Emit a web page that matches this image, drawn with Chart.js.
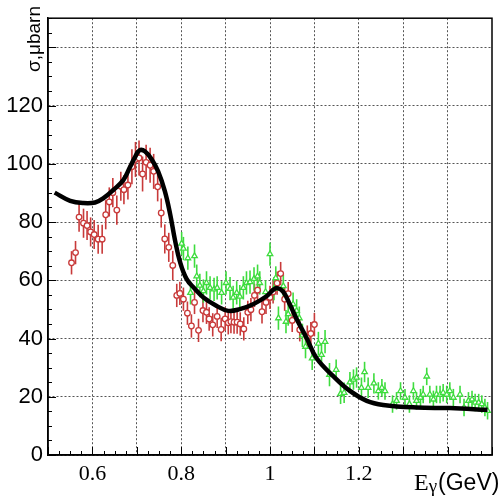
<!DOCTYPE html>
<html>
<head>
<meta charset="utf-8">
<script src="https://cdn.jsdelivr.net/npm/chart.js@4"></script>
<style>
  html, body { margin: 0; padding: 0; background: #fff; }
  #wrap { width: 503px; height: 498px; }
</style>
</head>
<body>
<div id="wrap"><canvas id="xsec" width="503" height="498"></canvas></div>
<script>
// --- data ---
const redX = [0.553,0.562,0.570,0.580,0.588,0.596,0.604,0.613,0.622,0.630,0.638,0.646,0.655,0.664,0.671,0.680,0.689,0.697,0.705,0.713,0.721,0.730,0.738,0.747,0.755,0.763,0.772,0.781,0.790,0.797,0.805,0.814,0.823,0.830,0.839,0.849,0.857,0.863,0.871,0.881,0.890,0.899,0.906,0.912,0.919,0.926,0.933,0.941,0.950,0.957,0.965,0.972,0.982,0.991,1.000,1.007,1.016,1.024,1.033,1.041,1.050,1.067,1.084,1.092,1.100];
const redY = [66,69.5,81.7,79.6,78.8,76.6,75.7,74.1,74.1,82.5,86.9,90.1,84.1,92.3,91.1,92.7,99,101.5,102,96.5,100.5,99.5,97.4,92.1,83.1,74.2,71.3,65.1,54.8,55.5,53.5,48.7,44.3,52.4,42.8,49.6,49.0,46.7,44.7,47.6,43.1,46.7,45.4,45.8,45.6,45.6,45.0,43.3,49.0,49.9,54.8,56.6,49.2,52.4,54.1,56.0,59,62.3,53.5,55.4,46.2,43,40.5,41.7,44.8];
const redErr = [4,4,5,5,5,5,5,5,5,5,5,5,5,5,5,5,6,6,6,6,6,6,6,5,5,5,5,5,4,4,4,4,4,4,4,4,4,4,4,4,4,4,4,4,4,4,4,4,4,4,4,4,4,4,4,4,4,4,4,4,4,4,4,4,4];

const greenX = [0.801,0.805,0.815,0.821,0.830,0.835,0.842,0.850,0.857,0.865,0.874,0.881,0.891,0.901,0.910,0.917,0.925,0.932,0.940,0.947,0.955,0.964,0.972,0.977,0.990,1.000,1.009,1.013,1.019,1.030,1.036,1.041,1.052,1.060,1.066,1.073,1.080,1.095,1.109,1.116,1.124,1.134,1.149,1.159,1.167,1.180,1.188,1.195,1.206,1.213,1.221,1.234,1.244,1.252,1.259,1.276,1.285,1.294,1.304,1.314,1.323,1.330,1.339,1.345,1.353,1.360,1.368,1.375,1.383,1.390,1.398,1.405,1.413,1.428,1.437,1.447,1.455,1.462,1.470,1.477,1.484,1.490];
const greenY = [72.6,70.9,67.6,55.7,68.3,61.4,58.2,56.3,59.1,57.4,56.9,57.4,55.7,59.1,57.1,54.1,55.7,54.4,57.4,59.1,59.4,60.5,61.4,59.1,56,69.0,57.1,60.8,47.0,58.0,45.8,48.4,51.8,49.5,47.0,41.1,37.2,33.2,38.3,34.4,38.9,27.6,29.3,21.0,21.4,25.0,25.9,26.6,23.1,28.5,23.1,24.6,22.0,23.1,22.0,17.5,18.6,22.0,19.7,17.5,22.0,18.6,19.7,20.8,27.0,20.8,19.1,20.8,20.8,21.4,20.8,22.0,19.7,20.8,16.3,18.6,19.1,18.0,18.0,17.5,16.3,15.2];
const greenErr = [4,4,4,4,4,4,4,4,4,4,4,4,4,4,4,4,4,4,4,4,4,4,4,4,4,4,4,4,4,4,4,4,4,4,4,4,4,4,4,4,4,4,3.5,3.5,3.5,3.5,3.5,3.5,3.5,3.5,3.5,3.5,3,3,3,3,3,3,3,3,3,3,3,3,3,3,3,3,3,3,3,3,3,3,3,3,3,3,3,3,3,3];

const curveX = [0.515,0.550,0.580,0.606,0.625,0.647,0.670,0.685,0.696,0.706,0.718,0.734,0.748,0.763,0.775,0.786,0.797,0.812,0.830,0.850,0.880,0.906,0.932,0.962,0.993,1.007,1.017,1.030,1.045,1.060,1.083,1.105,1.143,1.180,1.218,1.255,1.330,1.405,1.490];
const curveY = [90.1,87.3,86.5,86.7,88.2,91.0,94.5,99.0,102.3,104.6,104.3,101.4,97.4,90.7,82.8,73.8,66.5,60.5,57.2,54.1,51.2,49.5,50.1,51.8,54.6,56.7,57.3,56.0,51.6,46.7,40.0,33.2,27.0,22.0,18.6,17.2,16.3,16.1,15.5];

const xTicks = [0.6,0.7,0.8,0.9,1.0,1.1,1.2,1.3,1.4];
const xTickLabels = ['0.6','','0.8','','1','','1.2','',''];
const yTicks = [0,20,40,60,80,100,120,140];
const yTickLabels = ['0','20','40','60','80','100','120',''];

const RED = '#c83a3a';
const GREEN = '#3edc3e';

function pts(xs, ys, errs) {
    return xs.map((x, i) => ({ x: x, y: ys[i], err: errs ? errs[i] : 0 }));
}

// error bars, drawn under the markers
const errorBars = {
    id: 'errorBars',
    beforeDatasetsDraw(chart) {
        const { ctx, scales: { x, y } } = chart;
        ctx.save();
        chart.data.datasets.forEach(ds => {
            if (!ds.errColor) return;
            ctx.strokeStyle = ds.errColor;
            ctx.lineWidth = 1.6;
            ds.data.forEach(p => {
                const px = x.getPixelForValue(p.x);
                ctx.beginPath();
                ctx.moveTo(px, y.getPixelForValue(p.y - p.err));
                ctx.lineTo(px, y.getPixelForValue(p.y + p.err));
                ctx.stroke();
            });
        });
        ctx.restore();
    }
};

// frame, inner tick marks and axis titles
const frame = {
    id: 'frame',
    afterDraw(chart) {
        const { ctx, chartArea: a, scales: { x, y } } = chart;
        ctx.save();
        ctx.strokeStyle = '#000';
        ctx.lineWidth = 1.5;
        ctx.strokeRect(a.left, a.top, a.right - a.left, a.bottom - a.top);

        ctx.lineWidth = 1;
        // x ticks every 0.025, major at 0.1
        for (let k = 0; k <= 40; k++) {
            const v = 0.5 + k * 0.025;
            const px = Math.round(x.getPixelForValue(v)) + 0.5;
            const len = (k % 4 === 0) ? 8 : 4;
            ctx.beginPath();
            ctx.moveTo(px, a.bottom);
            ctx.lineTo(px, a.bottom - len);
            ctx.stroke();
        }
        // y ticks every 5, major at 20
        for (let k = 0; k <= 30; k++) {
            const v = k * 5;
            const py = Math.round(y.getPixelForValue(v)) + 0.5;
            const len = (v % 20 === 0) ? 8 : 4;
            ctx.beginPath();
            ctx.moveTo(a.left, py);
            ctx.lineTo(a.left + len, py);
            ctx.stroke();
        }

        ctx.fillStyle = '#000';
        // y title
        ctx.save();
        ctx.translate(40, 72);
        ctx.rotate(-Math.PI / 2);
        ctx.font = '19px "Liberation Sans", Arial, sans-serif';
        ctx.textAlign = 'left';
        ctx.textBaseline = 'alphabetic';
        ctx.fillText('σ,μbarn', 0, 0);
        ctx.restore();

        // x title
        ctx.textBaseline = 'alphabetic';
        ctx.textAlign = 'left';
        let tx = 414;
        ctx.font = '24px "Liberation Serif", "Times New Roman", serif';
        ctx.fillText('E', tx, 490);
        tx += ctx.measureText('E').width;
        ctx.font = '19px "Liberation Serif", "Times New Roman", serif';
        ctx.fillText('γ', tx, 492);
        tx += ctx.measureText('γ').width + 1;
        ctx.font = '23px "Liberation Sans", Arial, sans-serif';
        ctx.fillText('(GeV)', tx, 490);
        ctx.restore();
    }
};

const ctx = document.getElementById('xsec').getContext('2d');
new Chart(ctx, {
    type: 'scatter',
    data: {
        datasets: [
            {
                label: 'model',
                type: 'line',
                data: pts(curveX, curveY),
                borderColor: '#000',
                borderWidth: 4.5,
                pointRadius: 0,
                tension: 0.4,
                fill: false,
                order: 0
            },
            {
                label: 'red',
                data: pts(redX, redY, redErr),
                errColor: RED,
                pointStyle: 'circle',
                pointRadius: 2.8,
                pointBorderWidth: 1.3,
                pointBorderColor: RED,
                pointBackgroundColor: '#fff',
                order: 2
            },
            {
                label: 'green',
                data: pts(greenX, greenY, greenErr),
                errColor: GREEN,
                pointStyle: 'triangle',
                pointRadius: 3.2,
                pointBorderWidth: 1.3,
                pointBorderColor: GREEN,
                pointBackgroundColor: '#fff',
                order: 1
            }
        ]
    },
    options: {
        responsive: false,
        animation: false,
        devicePixelRatio: 1,
        layout: { padding: { top: 11, right: 11, left: 0, bottom: 0 } },
        plugins: { legend: { display: false }, tooltip: { enabled: false } },
        scales: {
            x: {
                type: 'linear',
                min: 0.5,
                max: 1.5,
                afterBuildTicks: s => { s.ticks = xTicks.map(v => ({ value: v })); },
                afterFit: s => { s.height = 43; },
                grid: { color: '#555', lineWidth: 1, drawTicks: false },
                border: { display: true, color: '#000', width: 1.5, dash: [2, 2] },
                ticks: {
                    autoSkip: false,
                    maxRotation: 0,
                    padding: 6,
                    color: '#000',
                    font: { family: '"Liberation Serif", "Times New Roman", serif', size: 22 },
                    callback: (v, i) => xTickLabels[i]
                }
            },
            y: {
                type: 'linear',
                min: 0,
                max: 150,
                afterBuildTicks: s => { s.ticks = yTicks.map(v => ({ value: v })); },
                afterFit: s => { s.width = 48; },
                grid: { color: '#555', lineWidth: 1, drawTicks: false },
                border: { display: true, color: '#000', width: 1.5, dash: [2, 2] },
                ticks: {
                    padding: 5,
                    color: '#000',
                    font: { family: '"Liberation Sans", Arial, sans-serif', size: 22 },
                    callback: (v, i) => yTickLabels[i]
                }
            }
        }
    },
    plugins: [errorBars, frame]
});
</script>
</body>
</html>
